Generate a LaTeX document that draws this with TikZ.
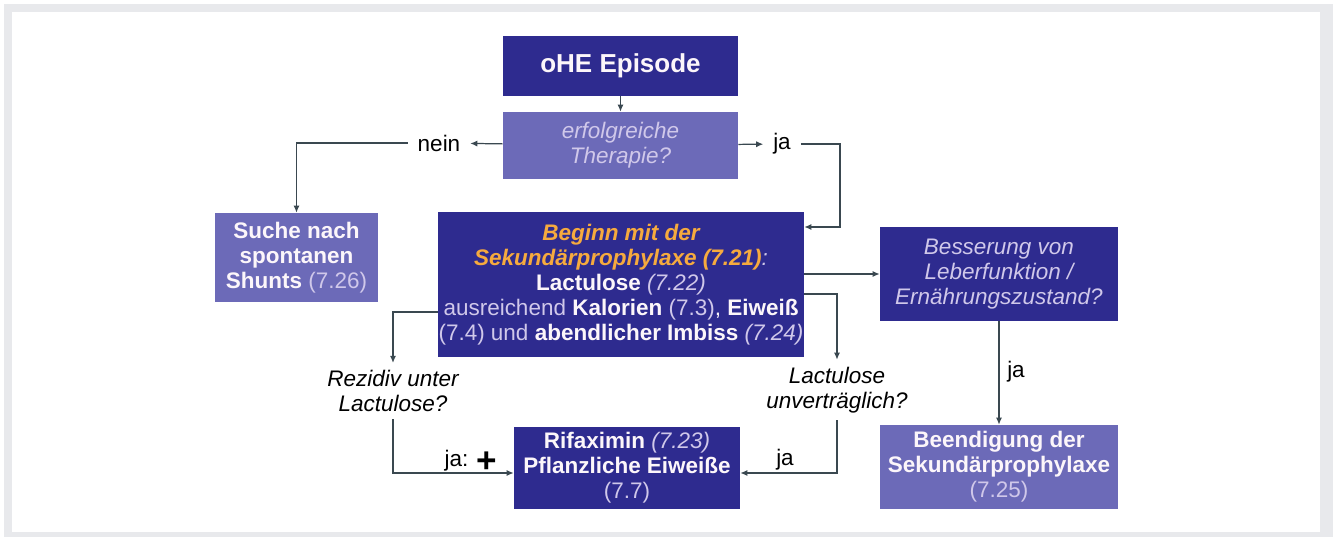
\documentclass[tikz,border=0pt]{standalone}
\usepackage{fontspec}
\setmainfont{Liberation Sans}
\usetikzlibrary{positioning, arrows.meta}

\definecolor{darkbox}{RGB}{46,43,143}
\definecolor{lightbox}{RGB}{108,106,184}
\definecolor{boxtext}{RGB}{252,246,250}
\definecolor{reftext}{RGB}{208,200,234}
\definecolor{orangetext}{RGB}{246,170,62}
\definecolor{linecol}{RGB}{58,72,80}
\definecolor{framegrey}{RGB}{232,233,236}

\newcommand{\boxfont}{\fontsize{12.8pt}{14.2pt}\selectfont}
\newcommand{\refnum}[1]{{\color{reftext}#1}}
\newcommand{\refit}[1]{{\color{reftext}\itshape #1}}

\tikzset{
  darkstep/.style={rectangle, fill=darkbox, text=boxtext, align=center, inner sep=0pt, font=\boxfont},
  lightstep/.style={rectangle, fill=lightbox, text=boxtext, align=center, inner sep=0pt, font=\boxfont},
  question/.style={align=center, font=\boxfont\itshape, text=black, inner xsep=1pt, inner ysep=4pt},
  answer/.style={font=\boxfont, text=black, inner xsep=5.5pt, inner ysep=1pt},
  flow/.style={draw=linecol, line width=0.7pt, -{Latex[length=4pt,width=3.5pt]}},
}

\begin{document}
\begin{tikzpicture}[x=0.02cm, y=-0.02cm]
    \useasboundingbox (0,0) rectangle (1333,537);
    % frame
    \fill[framegrey] (4,4) rectangle (1333,537);
    \fill[white] (12,12) rectangle (1320,532);

    % boxes
    \node[darkstep, minimum width=4.7cm, minimum height=1.2cm, font=\fontsize{14.8pt}{17pt}\selectfont\bfseries] (episode) at (620.5, 66) {oHE Episode};
    \node[lightstep, minimum width=4.7cm, minimum height=1.34cm, font=\boxfont\itshape, text=reftext] (therapie) at (620.5, 145.5) {erfolgreiche\\ Therapie?};
    \node[lightstep, minimum width=3.26cm, minimum height=1.78cm] (suche) at (296.5, 257.5) {\textbf{Suche nach}\\ \textbf{spontanen}\\ \textbf{Shunts} \refnum{(7.26)}};
    \node[darkstep, minimum width=7.32cm, minimum height=2.9cm] (beginn) at (621, 284.5) {{\color{orangetext}\bfseries\itshape Beginn mit der}\\ {\color{orangetext}\bfseries\itshape Sekundärprophylaxe (7.21)}\refit{:}\\ \textbf{Lactulose} \refit{(7.22)}\\ \refnum{ausreichend} \textbf{Kalorien} \refnum{(7.3)}, \textbf{Eiweiß}\\ \refnum{(7.4) und} \textbf{abendlicher Imbiss} \refit{(7.24)}};
    \node[darkstep, minimum width=4.76cm, minimum height=1.88cm, font=\boxfont\itshape, text=reftext] (besserung) at (999, 274) {Besserung von\\ Leberfunktion /\\ Ernährungszustand?};
    \node[lightstep, minimum width=4.76cm, minimum height=1.68cm] (beendigung) at (999, 467) {\textbf{Beendigung der}\\ \textbf{Sekundärprophylaxe}\\ \refnum{(7.25)}};
    \node[darkstep, minimum width=4.52cm, minimum height=1.64cm] (rifaximin) at (627, 468) {\textbf{Rifaximin} \refit{(7.23)}\\ \textbf{Pflanzliche Eiweiße}\\ \refnum{(7.7)}};

    % questions and answers
    \node[question] (rezidiv) at (393, 391) {Rezidiv unter\\ Lactulose?};
    \node[question] (unvertr) at (837, 390) {Lactulose\\ unverträglich?};
    \node[answer] (nein) at (439, 143) {nein};
    \node[answer] (jatop) at (782, 144) {ja};
    \node[answer] (jadown) at (1016, 372) {ja};
    \node[answer] (japlus) at (471, 461) {ja: \raisebox{-3.5pt}{\fontsize{20pt}{20pt}\selectfont\bfseries +}};
    \node[answer] (jaright) at (785, 460) {ja};

    \coordinate (jaturn) at (840, 227);
    \coordinate (lacturn) at (837, 294);
    \coordinate (rezturn) at (393, 312);

    % connectors
    \draw[flow] (episode) -- (therapie);
    \draw[flow] (therapie) -- (nein);
    \draw[flow] (nein) -| (suche);
    \draw[flow] (therapie) -- (jatop);
    \draw[flow] (jatop) -| (jaturn) -- (jaturn -| beginn.east);
    \draw[flow] (besserung.west -| beginn.east) -- (besserung.west);
    \draw[flow] (besserung) -- (beendigung);
    \draw[flow] (lacturn -| beginn.east) -| (unvertr);
    \draw[flow] (unvertr) |- ([yshift=-0.1cm]rifaximin.east);
    \draw[flow] (rezturn -| beginn.west) -| (rezidiv);
    \draw[flow] (rezidiv) |- ([yshift=-0.1cm]rifaximin.west);
\end{tikzpicture}
\end{document}
